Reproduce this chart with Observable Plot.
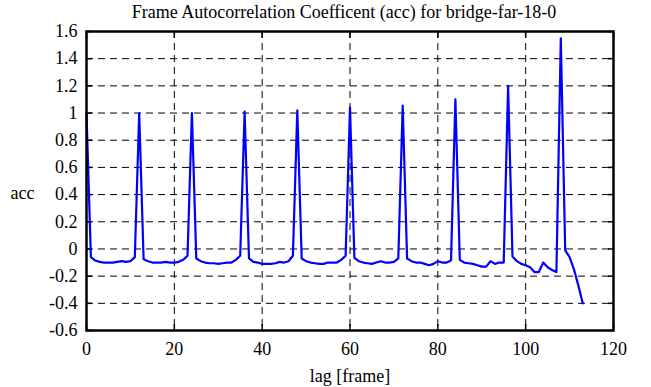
<!DOCTYPE html>
<html>
<head>
<meta charset="utf-8">
<script src="https://cdn.jsdelivr.net/npm/d3@7"></script>
<script src="https://cdn.jsdelivr.net/npm/@observablehq/plot@0.6"></script>
<style>
  html, body { margin: 0; padding: 0; background: white; }
  svg text { font-family: 'Liberation Serif', 'Times New Roman', serif !important; font-variant: normal !important; }
</style>
</head>
<body>
<div id="chart"></div>
<script>
const titleText = "Frame Autocorrelation Coefficent (acc) for bridge-far-18-0";
const xLabel = "lag [frame]";
const yLabel = "acc";
const xTicks = [0, 20, 40, 60, 80, 100, 120];
const yTicks = [-0.6, -0.4, -0.2, 0, 0.2, 0.4, 0.6, 0.8, 1, 1.2, 1.4, 1.6];

// acc value for each lag 0..113
const accValues = [
  1.0, -0.06, -0.085, -0.095, -0.1, -0.1, -0.1, -0.095, -0.09, -0.095, -0.09, -0.06,
  1.0, -0.075, -0.09, -0.1, -0.1, -0.1, -0.095, -0.1, -0.1, -0.095, -0.08, -0.05,
  1.0, -0.07, -0.09, -0.1, -0.105, -0.105, -0.11, -0.105, -0.1, -0.1, -0.08, -0.05,
  1.01, -0.07, -0.095, -0.1, -0.11, -0.11, -0.11, -0.105, -0.095, -0.1, -0.09, -0.05,
  1.02, -0.07, -0.09, -0.1, -0.105, -0.11, -0.11, -0.1, -0.1, -0.1, -0.08, -0.05,
  1.04, -0.065, -0.09, -0.1, -0.105, -0.11, -0.1, -0.09, -0.1, -0.1, -0.095, -0.07,
  1.055, -0.07, -0.09, -0.1, -0.1, -0.11, -0.12, -0.11, -0.09, -0.1, -0.1, -0.085,
  1.10, -0.08, -0.1, -0.105, -0.11, -0.12, -0.13, -0.13, -0.09, -0.11, -0.1, -0.1,
  1.20, -0.055, -0.09, -0.11, -0.12, -0.135, -0.17, -0.17, -0.1, -0.135, -0.155, -0.17,
  1.55, -0.01, -0.06, -0.15, -0.27, -0.40
];
const lags = accValues.map((_, i) => i);
const data = lags.map((lag, i) => ({lag, acc: accValues[i]}));

const fmtY = d => String(+d.toFixed(1));
const blank = () => "";
const font = "'Liberation Serif', 'Times New Roman', serif";

const chart = Plot.plot({
  width: 651,
  height: 387,
  marginLeft: 86,
  marginRight: 38,
  marginTop: 31,
  marginBottom: 57,
  style: {fontFamily: font, fontSize: "18px", background: "white", color: "black"},
  x: {domain: [0, 120]},
  y: {domain: [-0.6, 1.6]},
  marks: [
    Plot.gridX(xTicks, {stroke: "black", strokeOpacity: 1, strokeWidth: 1, strokeDasharray: "7,5"}),
    Plot.gridY(yTicks, {stroke: "black", strokeOpacity: 1, strokeWidth: 1, strokeDasharray: "7,5"}),
    Plot.axisX(xTicks, {anchor: "bottom", tickSize: 0, tickPadding: 12, tickFormat: d => String(d), label: null, fontSize: 18, fontFamily: font, fontVariant: "normal"}),
    Plot.axisY(yTicks, {anchor: "left", tickSize: 0, tickPadding: 9, tickFormat: fmtY, label: null, fontSize: 18, fontFamily: font, fontVariant: "normal"}),
    Plot.axisY(yTicks, {anchor: "left", tickSize: 6, dx: 6, tickFormat: blank, label: null, strokeWidth: 1.5}),
    Plot.axisY(yTicks, {anchor: "right", tickSize: 6, dx: -6, tickFormat: blank, label: null, strokeWidth: 1.5}),
    Plot.axisX(xTicks, {anchor: "bottom", tickSize: 6, dy: -6, tickFormat: blank, label: null, strokeWidth: 1.5}),
    Plot.axisX(xTicks, {anchor: "top", tickSize: 6, dy: 6, tickFormat: blank, label: null, strokeWidth: 1.5}),
    Plot.line(data, {x: "lag", y: "acc", stroke: "#0000ff", strokeWidth: 2.2}),
    Plot.frame({stroke: "black", strokeWidth: 2.5}),
    Plot.text([titleText], {frameAnchor: "top", dx: -6, dy: -19, lineAnchor: "middle", fontSize: 18, fontFamily: font, fill: "black"}),
    Plot.text([yLabel], {frameAnchor: "left", dx: -64, dy: 12, textAnchor: "middle", lineAnchor: "middle", fontSize: 18, fontFamily: font, fill: "black"}),
    Plot.text([xLabel], {frameAnchor: "bottom", dy: 46, lineAnchor: "middle", fontSize: 18, fontFamily: font, fill: "black"})
  ]
});
document.getElementById("chart").appendChild(chart);
</script>
</body>
</html>
